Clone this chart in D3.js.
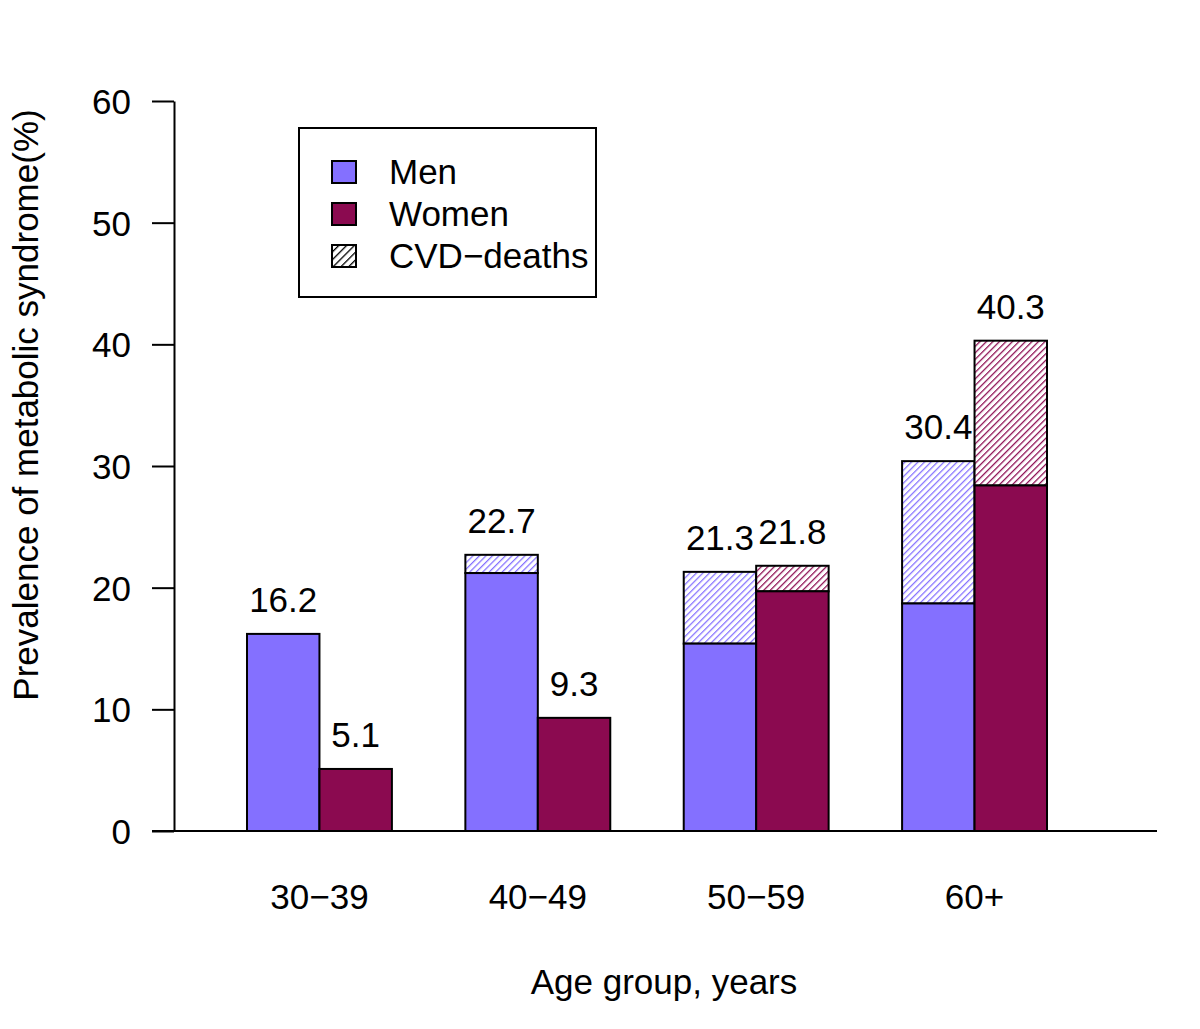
<!DOCTYPE html>
<html><head><meta charset="utf-8">
<script src="https://cdn.jsdelivr.net/npm/d3@7"></script>
<style>body{margin:0;background:#fff}text{font-family:"Liberation Sans",Arial,sans-serif}</style>
</head><body><svg id="c" width="1200" height="1029"></svg>
<script>
const categories = ["30\u221239","40\u221249","50\u221259","60+"];
const menBase   = [16.2, 21.2, 15.4, 18.7];
const menTotal  = [16.2, 22.7, 21.3, 30.4];
const womenBase = [5.1, 9.3, 19.7, 28.4];
const womenTotal= [5.1, 9.3, 21.8, 40.3];
const yTicks = [0,10,20,30,40,50,60];
const colors = {men:"#8470FF", women:"#8B0A50"};
const FS = 35;

const svg = d3.select("#c");
const y = d3.scaleLinear().domain([0,60]).range([831,101]);
const x = d3.scaleBand().domain(categories).range([247,1047]).paddingInner(73.5/218.5).paddingOuter(0);

const defs = svg.append("defs");
for (const [k,c] of Object.entries(colors)) {
  const p = defs.append("pattern").attr("id","h_"+k).attr("patternUnits","userSpaceOnUse")
    .attr("width",4.6).attr("height",4.6).attr("patternTransform","rotate(45)");
  p.append("rect").attr("width",4.6).attr("height",4.6).attr("fill","#fff");
  p.append("line").attr("x1",0).attr("y1",0).attr("x2",0).attr("y2",4.6).attr("stroke",c).attr("stroke-width",2.5);
}
const pb = defs.append("pattern").attr("id","h_black").attr("patternUnits","userSpaceOnUse")
    .attr("width",5.5).attr("height",5.5).attr("patternTransform","rotate(45)");
pb.append("rect").attr("width",5.5).attr("height",5.5).attr("fill","#fff");
pb.append("line").attr("x1",0).attr("y1",0).attr("x2",0).attr("y2",5.5).attr("stroke","#000").attr("stroke-width",2.6);

const bw = x.bandwidth()/2;
const series = [
  {key:"men", base:menBase, total:menTotal, off:0},
  {key:"women", base:womenBase, total:womenTotal, off:bw}
];
const g = svg.append("g");
series.forEach(s=>{
  categories.forEach((cat,i)=>{
    const x0 = x(cat)+s.off;
    if (s.total[i] > s.base[i]) {
      g.append("rect").attr("x",x0).attr("width",bw)
        .attr("y",y(s.total[i])).attr("height",y(s.base[i])-y(s.total[i]))
        .attr("fill","url(#h_"+s.key+")").attr("stroke","#000").attr("stroke-width",2);
    }
    g.append("rect").attr("x",x0).attr("width",bw)
      .attr("y",y(s.base[i])).attr("height",y(0)-y(s.base[i]))
      .attr("fill",colors[s.key]).attr("stroke","#000").attr("stroke-width",2);
    g.append("text").attr("x",x0+bw/2).attr("y",y(s.total[i])-22)
      .attr("text-anchor","middle").attr("font-size",FS).text(s.total[i].toFixed(1));
  });
});

// baseline
svg.append("line").attr("x1",152).attr("x2",1157).attr("y1",y(0)).attr("y2",y(0)).attr("stroke","#000").attr("stroke-width",2);
// y axis
const ya = svg.append("g").attr("transform","translate(174,0)")
  .call(d3.axisLeft(y).tickValues(yTicks).tickSize(22).tickPadding(21).tickSizeOuter(0));
ya.select(".domain").attr("stroke-width",2);
ya.selectAll(".tick line").attr("stroke-width",2);
ya.selectAll("text").attr("font-size",FS).attr("font-family","Liberation Sans, Arial, sans-serif").attr("fill","#000").attr("dy","0.36em");

// x labels
categories.forEach(cat=>{
  svg.append("text").attr("x",x(cat)+bw).attr("y",909).attr("text-anchor","middle").attr("font-size",FS).text(cat);
});
svg.append("text").attr("x",664).attr("y",994).attr("text-anchor","middle").attr("font-size",FS).text("Age group, years");
svg.append("text").attr("transform","translate(38,405) rotate(-90)").attr("text-anchor","middle").attr("font-size",FS).text("Prevalence of metabolic syndrome(%)");

// legend
const lg = svg.append("g");
lg.append("rect").attr("x",299).attr("y",128).attr("width",297).attr("height",169).attr("fill","#fff").attr("stroke","#000").attr("stroke-width",2);
const items = [["Men","men"],["Women","women"],["CVD\u2212deaths","black"]];
items.forEach((it,i)=>{
  const cy = 172 + i*42;
  lg.append("rect").attr("x",332).attr("y",cy-11).attr("width",24).attr("height",22)
    .attr("fill", it[1]==="black" ? "url(#h_black)" : colors[it[1]]).attr("stroke","#000").attr("stroke-width",2);
  lg.append("text").attr("x",389).attr("y",cy+12).attr("font-size",FS).text(it[0]);
});
</script></body></html>
